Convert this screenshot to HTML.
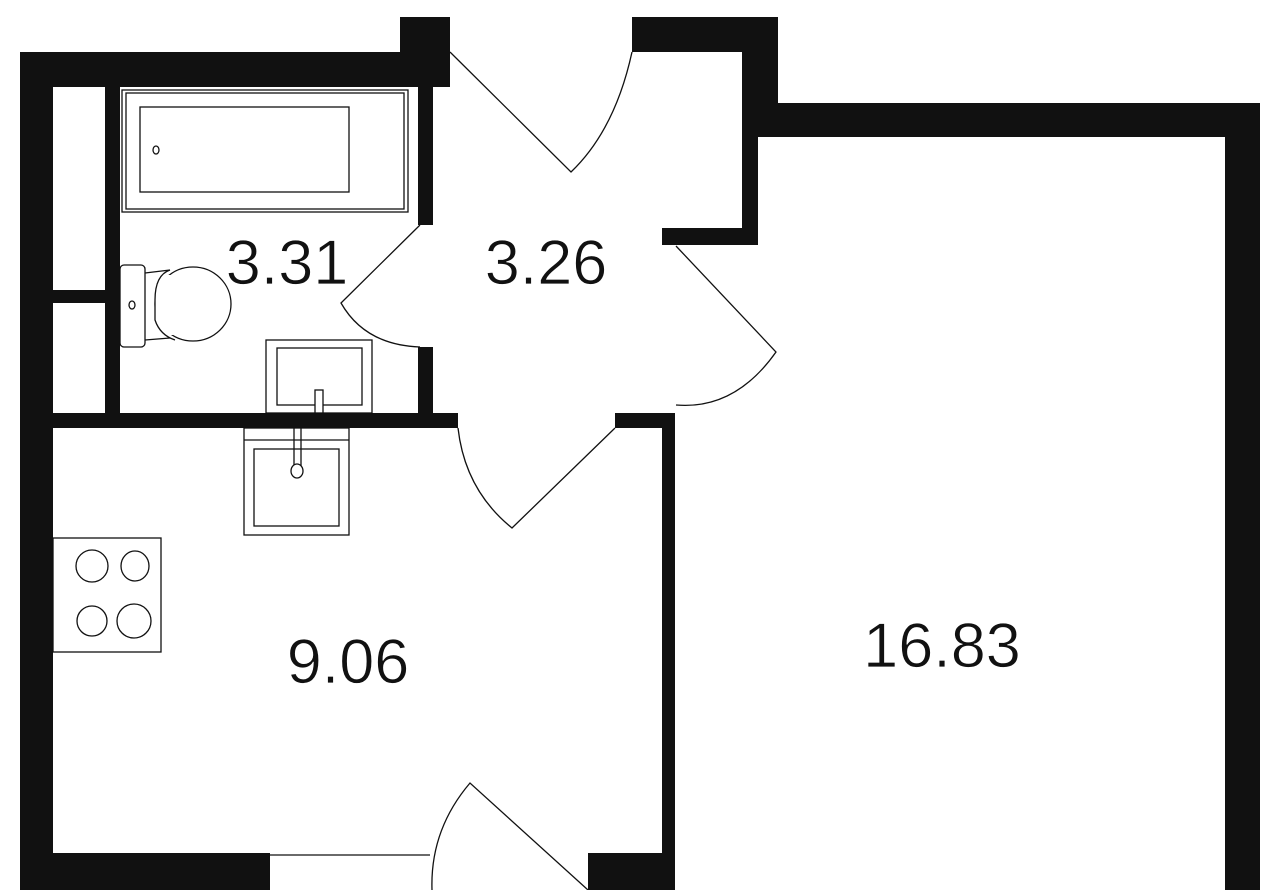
<!DOCTYPE html>
<html><head><style>
html,body{margin:0;padding:0;background:#fff;}
svg{display:block;}
text{font-family:"Liberation Sans",sans-serif;font-size:63px;fill:#111;text-anchor:middle;stroke:#fff;stroke-width:0.8px;}
</style></head><body>
<svg width="1280" height="890" viewBox="0 0 1280 890" xmlns="http://www.w3.org/2000/svg">
<g fill="#111">
<rect x="20" y="52" width="33" height="838"/>
<rect x="20" y="52" width="410" height="35"/>
<rect x="400" y="17" width="50" height="70"/>
<rect x="105" y="87" width="15" height="326"/>
<rect x="53" y="290" width="52" height="13"/>
<rect x="418" y="87" width="15" height="138"/>
<rect x="418" y="347" width="15" height="66"/>
<rect x="20" y="413" width="438" height="15"/>
<rect x="632" y="17" width="146" height="35"/>
<rect x="742" y="17" width="16" height="228"/>
<rect x="758" y="103" width="502" height="34"/>
<rect x="758" y="52" width="20" height="51"/>
<rect x="662" y="228" width="96" height="17"/>
<rect x="1225" y="103" width="35" height="787"/>
<rect x="615" y="413" width="60" height="15"/>
<rect x="662" y="413" width="13" height="477"/>
<rect x="53" y="853" width="217" height="37"/>
<rect x="588" y="853" width="74" height="37"/>
</g>
<g fill="none" stroke="#111" stroke-width="1.3">
<line x1="270" y1="855" x2="430" y2="855"/>
<path d="M450 52 L571 172 Q615 130 632 52"/>
<path d="M420 225 L341 303 Q365 345 420 347"/>
<path d="M676 246 L776 352 Q735 410 676 405"/>
<path d="M458 428 Q465 490 512 528 L615 428"/>
<path d="M588 890 L470 783 Q430 830 432 890"/>
<rect x="122" y="90" width="286" height="122"/>
<rect x="126" y="93" width="278" height="116"/>
<rect x="140" y="107" width="209" height="85"/>
<ellipse cx="156" cy="150" rx="3" ry="4"/>
<rect x="120" y="265" width="25" height="82" rx="4"/>
<path d="M145 273 L170 270"/>
<path d="M145 340 L170 338"/>
<ellipse cx="193" cy="304" rx="38" ry="37"/>
<rect x="155" y="275" width="20" height="60" fill="#fff" stroke="none"/>
<path d="M170 270 Q155 275 155 300 L155 320 Q160 335 175 340"/>
<ellipse cx="132" cy="305" rx="3" ry="4"/>
<rect x="266" y="340" width="106" height="73"/>
<rect x="277" y="348" width="85" height="57"/>
<rect x="315" y="390" width="8" height="23" fill="#fff"/>
<rect x="244" y="428" width="105" height="107"/>
<line x1="244" y1="440" x2="349" y2="440"/>
<rect x="254" y="449" width="85" height="77"/>
<line x1="294" y1="428" x2="294" y2="466"/>
<line x1="301" y1="428" x2="301" y2="466"/>
<ellipse cx="297" cy="471" rx="6" ry="7" fill="#fff"/>
<rect x="53" y="538" width="108" height="114"/>
<ellipse cx="92" cy="566" rx="16" ry="16"/>
<ellipse cx="135" cy="566" rx="14" ry="15"/>
<ellipse cx="92" cy="621" rx="15" ry="15"/>
<ellipse cx="134" cy="621" rx="17" ry="17"/>
</g>
<text x="287" y="284">3.31</text>
<text x="546" y="284">3.26</text>
<text x="348" y="683">9.06</text>
<text x="942" y="667">16.83</text>
</svg>
</body></html>
